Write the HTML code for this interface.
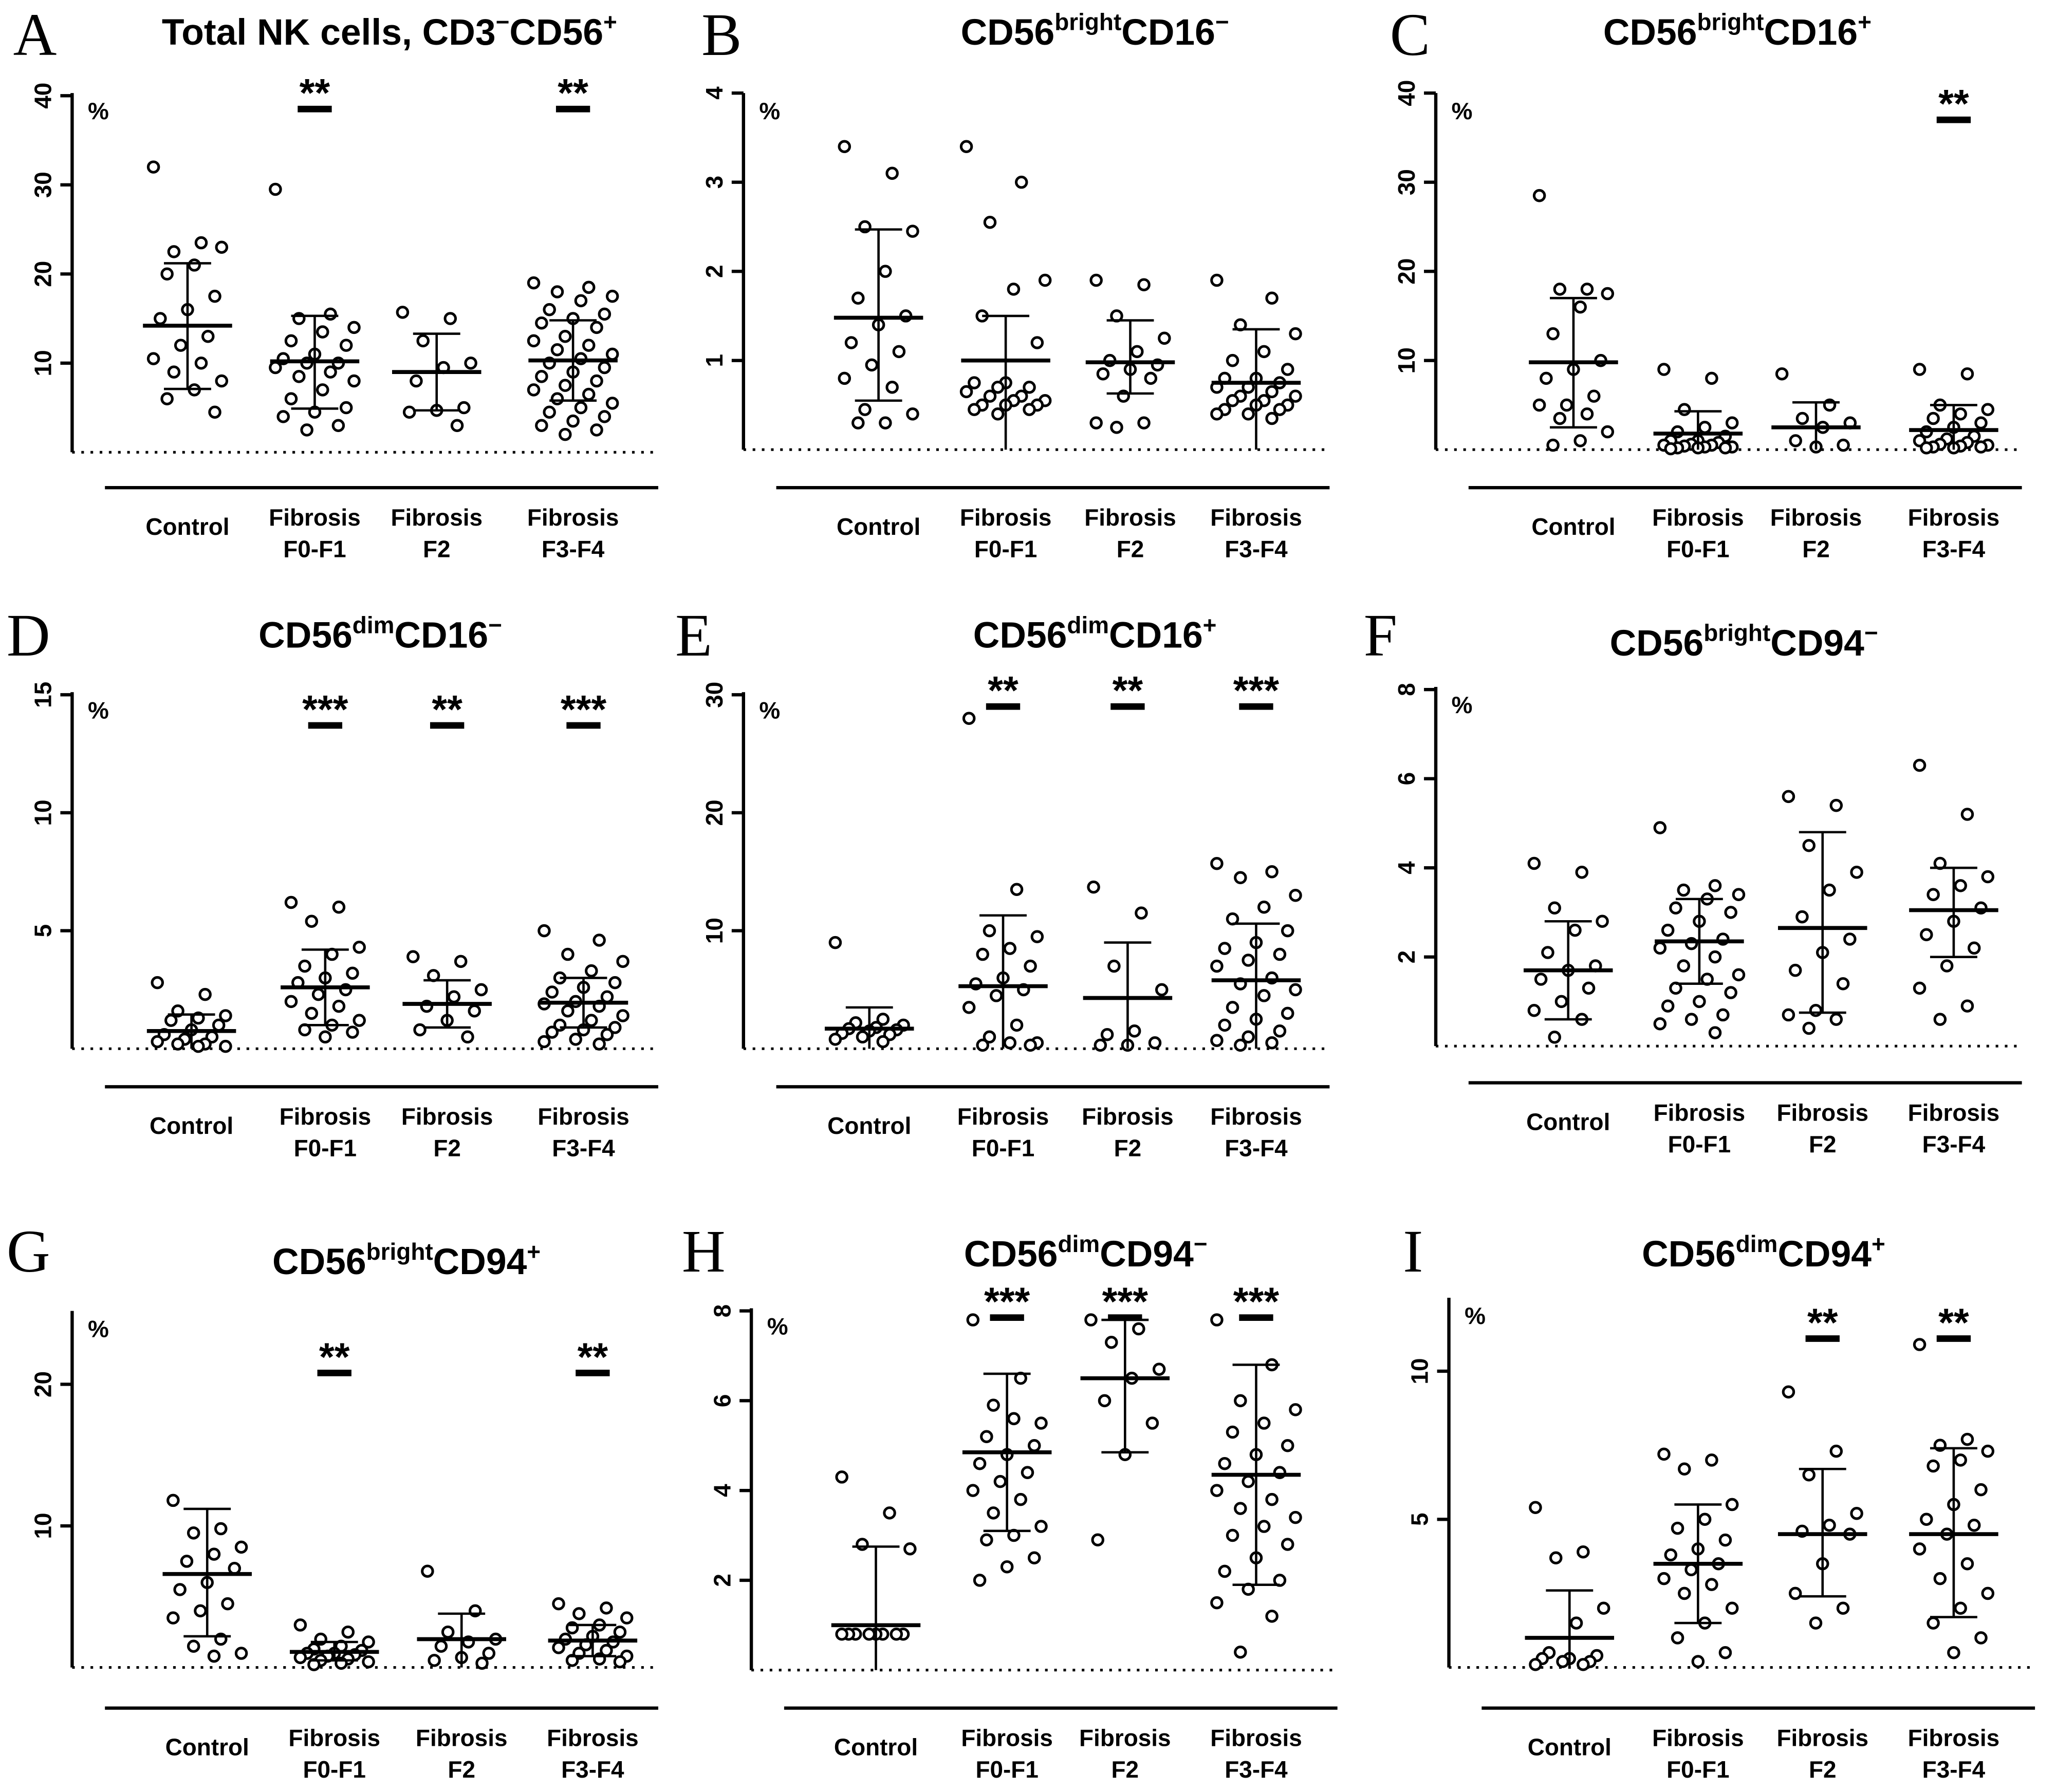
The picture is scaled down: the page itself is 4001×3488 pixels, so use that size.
<!DOCTYPE html>
<html><head><meta charset="utf-8"><style>
html,body{margin:0;padding:0;background:#fff}
svg{display:block}
text{font-family:"Liberation Sans",sans-serif;fill:#000}
</style></head><body>
<svg id="fig" width="4001" height="3488" viewBox="0 0 1568 1367" xmlns="http://www.w3.org/2000/svg"></svg>
<script>
const categories=["Control","Fibrosis|F0-F1","Fibrosis|F2","Fibrosis|F3-F4"];
// Panel A
const aVals=[[32,23.5,22.5,23,21,20,17.5,16,15,13,12,10.5,10,9,8,7,6,4.5],[29.5,15.5,15,14,13.5,12.5,12,11,10.5,10,10,9.5,9,8.5,8,7,6,5,4.5,4,3,2.5],[15.7,15,12.5,10,9.5,8,5,4.7,4.5,3],[19,18.5,18,17.5,17,16,15.5,15,14.5,14,13,12.5,12,11.5,11,10.5,10,9.5,9,8.5,8,7.5,7,6.5,6,5.5,5,4.5,4,3.5,3,2.5,2]];
const aMean=[14.2,10.2,9,10.3],aHi=[21.2,15.3,13.3,14.8],aLo=[7.1,4.9,4.7,5.8],aStars=["","**","","**"],aStarVal=38.5;
// Panel B
const bVals=[[3.4,3.1,2.5,2.45,2.0,1.7,1.5,1.4,1.2,1.1,0.95,0.8,0.7,0.45,0.4,0.3,0.3],[3.4,3.0,2.55,1.9,1.8,1.5,1.2,0.75,0.75,0.7,0.7,0.65,0.6,0.6,0.55,0.55,0.5,0.5,0.5,0.45,0.45,0.4],[1.9,1.85,1.5,1.25,1.1,1.0,0.95,0.9,0.85,0.8,0.6,0.3,0.3,0.25],[1.9,1.7,1.4,1.3,1.1,1.0,0.9,0.8,0.8,0.75,0.7,0.7,0.65,0.6,0.6,0.55,0.55,0.5,0.5,0.45,0.45,0.4,0.4,0.35]];
const bMean=[1.48,1.0,0.98,0.75],bHi=[2.47,1.5,1.45,1.35],bLo=[0.55,0,0.63,0],bStars=["","","",""],bStarVal=0;
// Panel C
const cVals=[[28.5,18,18,17.5,16,13,10,9,8,6,5,5,4,3.5,2,1,0.5],[9,8,4.5,3,2.5,2,1.5,1,1,0.8,0.6,0.5,0.5,0.4,0.3,0.3,0.2,0.2,0.2,0.1],[8.5,5,3.5,3,2.5,1,0.5,0.3],[9,8.5,5,4.5,4,3.5,3,2.5,2,1.5,1.2,1,0.8,0.6,0.5,0.4,0.3,0.3,0.2,0.2]];
const cMean=[9.8,1.8,2.5,2.2],cHi=[17,4.3,5.3,5],cLo=[2.5,0,0,0],cStars=["","","","**"],cStarVal=37;
// Panel D
const dVals=[[2.8,2.3,1.6,1.4,1.3,1.2,1.0,0.8,0.6,0.5,0.4,0.3,0.2,0.2,0.1,0.1],[6.2,6,5.4,4.3,4,3.5,3.2,3,2.8,2.5,2.3,2,1.8,1.5,1.2,1,0.8,0.7,0.5],[3.9,3.7,3.1,2.5,2.2,1.8,1.6,1.2,0.8,0.5],[5,4.6,4,3.7,3.3,3,2.8,2.6,2.4,2.2,2,1.9,1.8,1.6,1.4,1.2,1,0.9,0.8,0.7,0.6,0.4,0.3,0.2]];
const dMean=[0.75,2.6,1.9,1.95],dHi=[1.45,4.2,2.9,3],dLo=[0,1,0.9,0.9],dStars=["","***","**","***"],dStarVal=13.7;
// Panel E
const eVals=[[9,2.5,2.2,2,1.8,1.7,1.6,1.5,1.3,1.2,1.0,0.8,0.6],[28,13.5,10,9.5,8.5,8,7,6,5.5,5,4.5,3.5,2,1,0.5,0.5,0.3,0.3],[13.7,11.5,7,5,1.5,1.2,0.5,0.3,0.3],[15.7,15,14.5,13,12,11,10,9,8.5,8,7.5,7,6,5.5,5,4.5,3.5,3,2.5,2,1.5,1,0.7,0.5,0.3]];
const eMean=[1.7,5.3,4.3,5.8],eHi=[3.5,11.3,9,10.6],eLo=[0,0,0,0],eStars=["","**","**","***"],eStarVal=29;
// Panel F
const fVals=[[4.1,3.9,3.1,2.8,2.6,2.1,1.8,1.7,1.5,1.3,1.0,0.8,0.6,0.2],[4.9,3.6,3.5,3.4,3.3,3.1,3,2.8,2.6,2.4,2.3,2.2,2,1.8,1.6,1.5,1.3,1.2,1,0.9,0.7,0.6,0.5,0.3],[5.6,5.4,4.5,3.9,3.5,2.9,2.4,2.1,1.7,1.4,0.8,0.7,0.6,0.4],[6.3,5.2,4.1,3.8,3.6,3.4,3.1,2.8,2.5,2.2,1.8,1.3,0.9,0.6]];
const fMean=[1.7,2.35,2.65,3.05],fHi=[2.8,3.3,4.8,4],fLo=[0.6,1.4,0.75,2],fStars=["","","",""],fStarVal=0;
// Panel G
const gVals=[[11.8,9.8,9.5,8.5,8,7.5,7,6,5.5,4.5,4,3.5,2,1.5,1,0.8],[3,2.5,2,1.8,1.5,1.3,1.2,1,1,0.9,0.8,0.7,0.6,0.5,0.4,0.3,0.2],[6.8,4,2.5,2,1.8,1.5,1,0.7,0.5,0.3],[4.5,4.2,3.8,3.5,3,2.8,2.5,2.2,2,1.8,1.6,1.4,1.2,1,0.8,0.6,0.5,0.4]];
const gMean=[6.6,1.1,2,1.9],gHi=[11.2,1.8,3.8,3],gLo=[2.2,0.5,0,0.8],gStars=["","**","","**"],gStarVal=20.8;
// Panel H
const hVals=[[4.3,3.5,2.8,2.7,0.8,0.8,0.8,0.8,0.8,0.8,0.8,0.8],[7.8,6.5,5.9,5.5,5.6,5.2,5,4.8,4.6,4.4,4.2,4,3.8,3.5,3.2,3,2.9,2.5,2.3,2],[7.8,7.6,7.3,6.7,6.5,6,5.5,4.8,2.9],[7.8,6.8,6,5.8,5.5,5.3,5,4.8,4.6,4.4,4.2,4,3.8,3.6,3.4,3.2,3,2.8,2.5,2.2,2,1.8,1.5,1.2,0.4]];
const hMean=[1.0,4.85,6.5,4.35],hHi=[2.75,6.6,7.8,6.8],hLo=[0,3.1,4.85,1.9],hStars=["","***","***","***"],hStarVal=7.85;
// Panel I
const iVals=[[5.4,3.9,3.7,2,1.5,0.5,0.4,0.3,0.3,0.2,0.2,0.1,0.1],[7.2,7,6.7,5.5,5,4.7,4.3,4,3.8,3.5,3.3,3,2.8,2.5,2,1.5,1,0.5,0.2],[9.3,7.3,6.5,5.2,4.8,4.6,4.5,3.5,2.5,2,1.5],[10.9,7.7,7.5,7.3,7,6.8,6,5.5,5,4.8,4.5,4,3.5,3,2.5,2,1.5,1,0.5]];
const iMean=[1.0,3.5,4.5,4.5],iHi=[2.6,5.5,6.7,7.4],iLo=[0,1.5,2.4,1.7],iStars=["","","**","**"],iStarVal=11.1;

const panels=[
 {id:"a",L:"A",lx:10,ly:42,title:[["Total NK cells, CD3",""],["−","sup"],["CD56",""],["+","sup"]],tx:297,ty:34,ax:55,y0:345,yt:73,max:40,top:71,ticks:[10,20,30,40],cx:[143,240,333,437],al:372,vals:aVals,mean:aMean,hi:aHi,lo:aLo,stars:aStars,sv:aStarVal},
 {id:"b",L:"B",lx:535,ly:42,title:[["CD56",""],["bright","sup"],["CD16",""],["−","sup"]],tx:835,ty:34,ax:567,y0:343,yt:71,max:4,top:71,ticks:[1,2,3,4],cx:[670,767,862,958],al:372,vals:bVals,mean:bMean,hi:bHi,lo:bLo,stars:bStars,sv:bStarVal},
 {id:"c",L:"C",lx:1060,ly:42,title:[["CD56",""],["bright","sup"],["CD16",""],["+","sup"]],tx:1325,ty:34,ax:1095,y0:343,yt:71,max:40,top:71,ticks:[10,20,30,40],cx:[1200,1295,1385,1490],al:372,vals:cVals,mean:cMean,hi:cHi,lo:cLo,stars:cStars,sv:cStarVal},
 {id:"d",L:"D",lx:5,ly:500,title:[["CD56",""],["dim","sup"],["CD16",""],["−","sup"]],tx:290,ty:494,ax:55,y0:800,yt:530,max:15,top:528,ticks:[5,10,15],cx:[146,248,341,445],al:829,vals:dVals,mean:dMean,hi:dHi,lo:dLo,stars:dStars,sv:dStarVal},
 {id:"e",L:"E",lx:515,ly:500,title:[["CD56",""],["dim","sup"],["CD16",""],["+","sup"]],tx:835,ty:494,ax:567,y0:800,yt:530,max:30,top:528,ticks:[10,20,30],cx:[663,765,860,958],al:829,vals:eVals,mean:eMean,hi:eHi,lo:eLo,stars:eStars,sv:eStarVal},
 {id:"f",L:"F",lx:1040,ly:500,title:[["CD56",""],["bright","sup"],["CD94",""],["−","sup"]],tx:1330,ty:500,ax:1095,y0:798,yt:526,max:8,top:524,ticks:[2,4,6,8],cx:[1196,1296,1390,1490],al:826,vals:fVals,mean:fMean,hi:fHi,lo:fLo,stars:fStars,sv:fStarVal},
 {id:"g",L:"G",lx:5,ly:970,title:[["CD56",""],["bright","sup"],["CD94",""],["+","sup"]],tx:310,ty:972,ax:55,y0:1272,yt:1056,max:20,top:1000,ticks:[10,20],cx:[158,255,352,452],al:1303,vals:gVals,mean:gMean,hi:gHi,lo:gLo,stars:gStars,sv:gStarVal},
 {id:"h",L:"H",lx:520,ly:970,title:[["CD56",""],["dim","sup"],["CD94",""],["−","sup"]],tx:828,ty:966,ax:573,y0:1274,yt:1000,max:8,top:998,ticks:[2,4,6,8],cx:[668,768,858,958],al:1303,vals:hVals,mean:hMean,hi:hHi,lo:hLo,stars:hStars,sv:hStarVal},
 {id:"i",L:"I",lx:1070,ly:970,title:[["CD56",""],["dim","sup"],["CD94",""],["+","sup"]],tx:1345,ty:966,ax:1105,y0:1272,yt:1046,max:10,top:990,ticks:[5,10],cx:[1197,1295,1390,1490],al:1303,vals:iVals,mean:iMean,hi:iHi,lo:iLo,stars:iStars,sv:iStarVal}
];
const NS="http://www.w3.org/2000/svg";
const svg=document.getElementById("fig");
function mk(tag,attrs,parent){const e=document.createElementNS(NS,tag);for(const k in attrs)e.setAttribute(k,attrs[k]);(parent||svg).appendChild(e);return e;}
panels.forEach(p=>{
 const g=mk("g",{});
 
 
 const y=v=>p.y0-v*(p.y0-p.yt)/p.max;
 const L=mk("text",{x:p.lx,y:p.ly,style:"font-family:'Liberation Serif',serif;font-size:46px"},g);L.textContent=p.L;
 
 
 const t=mk("text",{x:p.tx,y:p.ty,"font-size":28,"font-weight":"bold","text-anchor":"middle"},g);
 
 
 let prevSup=false;
 p.title.forEach(s=>{const sup=s[1]=="sup";const ts=mk("tspan",{"font-size":sup?18:28,dy:(sup&&!prevSup)?-11:(!sup&&prevSup)?11:0},t);ts.textContent=s[0];prevSup=sup;});
 const ya=mk("line",{x1:p.ax,y1:p.top,x2:p.ax,y2:p.y0,stroke:"#000","stroke-width":2.5},g);
 
 
 p.ticks.forEach(v=>{
  mk("line",{x1:p.ax-9,y1:y(v),x2:p.ax,y2:y(v),stroke:"#000","stroke-width":2.5},g);
  const tl=mk("text",{x:0,y:0,"font-size":18,"font-weight":"bold","text-anchor":"middle",transform:`translate(${p.ax-16},${y(v)}) rotate(-90)`},g);tl.textContent=v;
  
  
 });
 const pc=mk("text",{x:p.ax+12,y:p.top+20,"font-size":18,"font-weight":"bold"},g);pc.textContent="%";
 
 
 mk("line",{x1:p.ax,y1:p.y0,x2:p.ax+445,y2:p.y0,stroke:"#000","stroke-width":2,"stroke-dasharray":"2,5"},g);
 const xa=mk("line",{x1:p.ax+25,y1:p.al,x2:p.ax+447,y2:p.al,stroke:"#000","stroke-width":2.5},g);
 
 
 categories.forEach((c,k)=>{
  const parts=c.split("|");const cx=p.cx[k];
  const ct=mk("text",{x:cx,"font-size":18,"font-weight":"bold","text-anchor":"middle"},g);
  
  
  if(parts.length==1){ct.setAttribute("y",p.al+36);ct.textContent=parts[0];}
  else{ct.setAttribute("y",p.al+29);const a=mk("tspan",{x:cx},ct);a.textContent=parts[0];const b=mk("tspan",{x:cx,dy:24},ct);b.textContent=parts[1];}
  const vals=p.vals[k];
  vals.forEach((v,i)=>{
   const off=((i*7)%11-5)*(vals.length>20?6:5.2);
   const c1=mk("circle",{cx:cx+off,cy:y(v),r:4,fill:"#fff",stroke:"#000","stroke-width":2},g);
   
   
  });
  const hi=y(p.hi[k]),lo=y(p.lo[k]),m=y(p.mean[k]);
  mk("line",{x1:cx,y1:hi,x2:cx,y2:lo,stroke:"#000","stroke-width":1.8},g);
  mk("line",{x1:cx-18,y1:hi,x2:cx+18,y2:hi,stroke:"#000","stroke-width":1.8},g);
  if(p.lo[k]>0)mk("line",{x1:cx-18,y1:lo,x2:cx+18,y2:lo,stroke:"#000","stroke-width":1.8},g);
  const ml=mk("line",{x1:cx-34,y1:m,x2:cx+34,y2:m,stroke:"#000","stroke-width":3},g);
  
  
  if(p.stars[k]){
   const sy=y(p.sv);
   mk("line",{x1:cx-13,y1:sy,x2:cx+13,y2:sy,stroke:"#000","stroke-width":5},g);
   const st=mk("text",{x:cx,y:sy-2,"font-size":30,"font-weight":"bold","text-anchor":"middle"},g);st.textContent=p.stars[k];
   
   
  }
 });
});
</script>
</body></html>
